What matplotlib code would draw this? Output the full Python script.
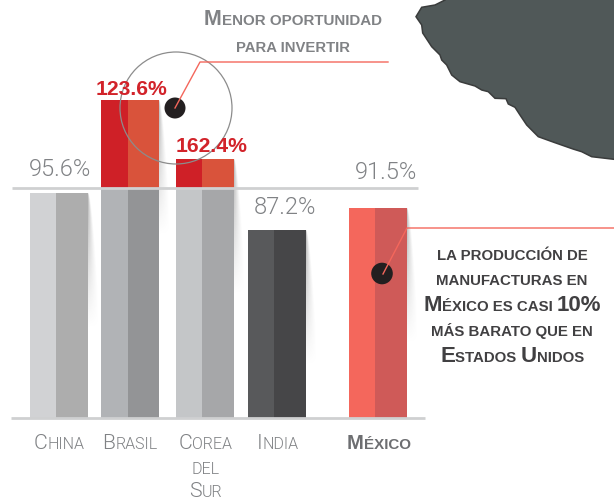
import numpy as np
import matplotlib
matplotlib.use("Agg")
import matplotlib.pyplot as plt
from matplotlib.patches import Circle, Polygon

plt.rcParams['font.family'] = ['Liberation Sans', 'DejaVu Sans']

# --- data ---
categories = ["China", "Brasil", "Corea del Sur", "India", "México"]
value_labels = ["95.6%", "123.6%", "162.4%", "87.2%", "91.5%"]
bar_heights = [225, 318, 259, 188, 210]   # drawn height above the baseline
reference_level = 230                     # the horizontal grey line

# --- style ---
bar_left = [30, 101, 176, 248, 349]
bar_split = [26, 26.5, 26, 26, 26]
bar_width = 58
low_left = ['#d1d2d4', '#b1b3b6', '#c4c6c8', '#58595b', '#f4675c']
low_right = ['#adadad', '#939496', '#a6a7a9', '#464648', '#cf5a58']
up_left = '#cf2027'
up_right = '#d9533b'
GREY = '#808285'
RED = '#d2232a'
SALMON = '#f4675c'
DARK = '#414042'
LIGHT = ['Roboto', 'Liberation Sans']

fig = plt.figure(figsize=(6.14, 5.0), dpi=100, facecolor='white')
ax = fig.add_axes([0, 0, 1, 1], zorder=2)
ax.set_xlim(0, 614)
ax.set_ylim(-82, 418)
ax.axis('off')
ax.patch.set_alpha(0)

ov = fig.add_axes([0, 0, 1, 1], zorder=3)
ov.set_xlim(0, 614)
ov.set_ylim(500, 0)
ov.axis('off')
ov.patch.set_alpha(0)

bk = fig.add_axes([0, 0, 1, 1], zorder=1)
bk.axis('off')

# soft shadows to the right of each bar
for left, h in zip(bar_left, bar_heights):
    r = left + bar_width
    length, spread = 135, 12
    yy, xx = np.mgrid[0:length, 0:spread * 4] + 0.5
    yy = yy / length
    xx = xx / 4
    w = spread * yy ** 0.6 + 0.01
    a = np.clip(1 - xx / w, 0, 1) * (1 - yy) ** 1.1 * 0.7
    img = np.zeros(a.shape + (4,))
    img[..., :3] = 0.55
    img[..., 3] = a
    top = 418 - h
    bk.imshow(img, extent=[r, r + spread, top + length, top], aspect='auto',
              interpolation='bilinear')
bk.set_xlim(0, 614)
bk.set_ylim(500, 0)

# bars
for i, h in enumerate(bar_heights):
    l, s = bar_left[i], bar_split[i]
    low = min(h, reference_level)
    up = max(h - reference_level, 0)
    ax.bar(l, low, width=s, align='edge', color=low_left[i], lw=0)
    ax.bar(l + s, low, width=bar_width - s, align='edge', color=low_right[i], lw=0)
    if up:
        ax.bar(l, up, bottom=low, width=s, align='edge', color=up_left, lw=0)
        ax.bar(l + s, up, bottom=low, width=bar_width - s, align='edge', color=up_right, lw=0)

ax.plot([11, 425], [0, 0], color='#cfd0d1', lw=2.0, solid_capstyle='butt')
ax.plot([12, 418], [reference_level, reference_level], color='#cfd0d1', lw=2.0,
        solid_capstyle='butt')

# map silhouette
coast = [(445, 0), (435, 5), (421.7, 7.3), (416, 16.7), (421.7, 25), (422.7, 33),
         (431.7, 46.7), (440, 55), (441.7, 60), (446.7, 65), (451.7, 75), (460, 81.7),
         (475, 86), (481.7, 90), (488.3, 91.7), (495, 98.3), (506, 98.7), (508.3, 104),
         (515, 107.3), (520, 115), (526.7, 125), (538.3, 136.7), (555, 142.7), (573, 149),
         (581.7, 151.7), (591.7, 156.7), (614, 159.3), (620, 159.3), (620, -5), (445, -5)]
ov.add_patch(Polygon(coast, closed=True, fc='#505858', ec='#3a3c3c', lw=1.1))

# callouts
ov.add_patch(Circle((176, 108), 56, fc='none', ec='#8c8c8c', lw=0.9))
ov.add_patch(Circle((175, 108), 10.5, fc='#231f20', ec='none'))
ov.add_patch(Circle((382, 273.5), 10.8, fc='#231f20', ec='none'))
ov.plot([175, 200, 388], [108, 62, 62], color=SALMON, lw=1.0)
ov.plot([383, 407, 614], [274, 228, 228], color=SALMON, lw=1.0)

renderer = fig.canvas.get_renderer()


def adv(s, size, weight, family):
    t = ov.text(0, 0, "|" + s + "|", fontsize=size, fontweight=weight, family=family)
    w1 = t.get_window_extent(renderer).width
    t.set_text("||")
    w0 = t.get_window_extent(renderer).width
    t.remove()
    return w1 - w0


def small_caps(cx, base, runs, big, small, color, weight='bold',
               family=('Liberation Sans',)):
    """Draw runs of (text, is_big) centred at cx on one baseline."""
    family = list(family)
    sizes = [big if b else small for _, b in runs]
    widths = [adv(s, z, weight, family) for (s, _), z in zip(runs, sizes)]
    x = cx - sum(widths) / 2
    for (s, _), z, w in zip(runs, sizes, widths):
        ov.text(x, base, s, fontsize=z, color=color, fontweight=weight, family=family,
                ha='left', va='baseline')
        x += w


# value labels
label_pos = [(60, 176), (131.5, 95), (211.5, 152), (284.5, 214), (386.5, 179)]
for txt, (x, y), h in zip(value_labels, label_pos, bar_heights):
    hot = h > reference_level
    if hot:
        ov.text(x, y, txt, ha='center', va='baseline', fontsize=15.2,
                color=RED, fontweight='bold')
    else:
        ov.text(x, y, txt, ha='center', va='baseline', fontsize=17,
                color=GREY, fontweight=300, family=LIGHT)

# category labels
def cat(cx, base, runs):
    small_caps(cx, base, runs, 15.3, 11.5, GREY, 300, LIGHT)

cat(59, 449, [("C", True), ("HINA", False)])
cat(130, 449, [("B", True), ("RASIL", False)])
cat(205.5, 449, [("C", True), ("OREA", False)])
cat(205.5, 474, [("DEL", False)])
cat(205.5, 497, [("S", True), ("UR", False)])
cat(278, 449, [("I", True), ("NDIA", False)])
small_caps(378.7, 449, [("M", True), ("ÉXICO", False)], 14.6, 10.9, '#6d6e71')

# annotation: top
small_caps(293, 25, [("M", True), ("ENOR OPORTUNIDAD", False)], 15.5, 10.9, GREY)
small_caps(293, 52, [("PARA INVERTIR", False)], 15.5, 10.7, GREY)

# annotation: right
B, S = 16, 10.8
small_caps(512, 260, [("LA PRODUCCIÓN DE", False)], B, S, DARK)
small_caps(512, 285, [("MANUFACTURAS EN", False)], B, S, DARK)
small_caps(512, 311, [("M", True), ("ÉXICO ES CASI ", False), ("10%", True)], B, S, DARK)
small_caps(512, 336, [("MÁS BARATO QUE EN", False)], B, S, DARK)
small_caps(512, 362, [("E", True), ("STADOS ", False), ("U", True), ("NIDOS", False)], B, S, DARK)

fig.savefig("out.png", dpi=100, facecolor='white')
